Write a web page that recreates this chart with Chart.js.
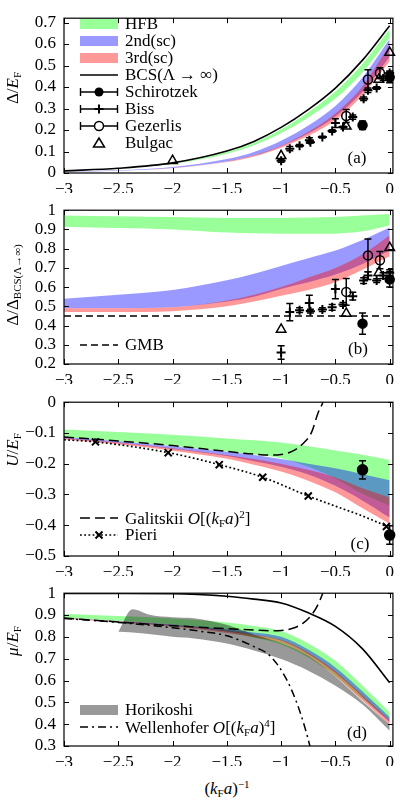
<!DOCTYPE html>
<html>
<head>
<meta charset="utf-8">
<script src="https://cdn.jsdelivr.net/npm/chart.js@4.4.1/dist/chart.umd.min.js"></script>
<style>
  body { margin: 0; background: #fff; overflow: hidden; }
  #page { position: relative; width: 400px; height: 802px; font-family: "Liberation Serif", serif; color: #000; }
  .panel { position: absolute; left: 0; width: 400px; }
  .ytitle { position: absolute; left: 13px; transform: translate(-50%, -50%) rotate(-90deg); white-space: nowrap; font-size: 17px; }
  .xtitle { position: absolute; transform: translate(-50%, -50%); white-space: nowrap; font-size: 17px; }
  .leg { position: absolute; left: 78px; height: 16px; display: flex; align-items: center; font-size: 17px; white-space: nowrap; }
  .leg svg { width: 42px; height: 16px; margin-right: 5px; flex: none; }
  .tag { position: absolute; font-size: 17px; transform: translate(-50%, -50%); }
  sub { font-size: 11px; vertical-align: -3px; font-style: normal; }
  sup { font-size: 11px; vertical-align: 6px; }
</style>
</head>
<body>
<div id="page">
  <div class="panel" style="top:0;height:193px"><canvas id="chartA"></canvas></div>
  <div class="panel" style="top:192px;height:192px"><canvas id="chartB"></canvas></div>
  <div class="panel" style="top:384px;height:192px"><canvas id="chartC"></canvas></div>
  <div class="panel" style="top:575px;height:191px"><canvas id="chartD"></canvas></div>

  <div class="ytitle" style="top:88px">Δ/<i>E</i><sub>F</sub></div>
  <div class="ytitle" style="top:285px">Δ/Δ<sub>BCS(Λ→∞)</sub></div>
  <div class="ytitle" style="top:450px"><i>U</i>/<i>E</i><sub>F</sub></div>
  <div class="ytitle" style="top:641px"><i>μ</i>/<i>E</i><sub>F</sub></div>
  <div class="xtitle" style="left:227px;top:788px">(<i>k</i><sub>F</sub><i>a</i>)<sup>−1</sup></div>

  <div class="tag" style="left:357px;top:158px">(a)</div>
  <div class="tag" style="left:358px;top:349px">(b)</div>
  <div class="tag" style="left:360px;top:544px">(c)</div>
  <div class="tag" style="left:357px;top:733px">(d)</div>
  <div id="legends"></div>
</div>

<script>
// ---- axes ----
const xTicks = [-3, -2.5, -2, -1.5, -1, -0.5, 0];
const yTicksA = [0, 0.1, 0.2, 0.3, 0.4, 0.5, 0.6, 0.7];
const yTicksB = [0.2, 0.3, 0.4, 0.5, 0.6, 0.7, 0.8, 0.9, 1];
const yTicksC = [-0.5, -0.4, -0.3, -0.2, -0.1, 0];
const yTicksD = [0.3, 0.4, 0.5, 0.6, 0.7, 0.8, 0.9, 1];

// shared grid of (kF a)^-1 for the theory bands
const gridX = [-3, -2.5, -2, -1.5, -1.25, -1, -0.75, -0.5, -0.25, 0];

// ---- panel (a): gap / E_F ----
const bcsA = [0.010, 0.022, 0.047, 0.102, 0.147, 0.212, 0.295, 0.395, 0.525, 0.685];
const hfbTopA = [0.0097, 0.0213, 0.0455, 0.098, 0.141, 0.203, 0.283, 0.379, 0.508, 0.670];
const hfbBotA = [0.0092, 0.0198, 0.0425, 0.090, 0.129, 0.185, 0.258, 0.346, 0.468, 0.630];
const sc2TopA = [0.0054, 0.0123, 0.0275, 0.065, 0.098, 0.150, 0.221, 0.312, 0.444, 0.623];
const sc2BotA = [0.0049, 0.0108, 0.0233, 0.0536, 0.081, 0.125, 0.184, 0.263, 0.378, 0.541];
const sc3TopA = [0.0049, 0.0108, 0.0233, 0.054, 0.082, 0.127, 0.192, 0.277, 0.404, 0.596];
const sc3BotA = [0.0047, 0.0103, 0.0223, 0.051, 0.077, 0.118, 0.173, 0.247, 0.362, 0.521];

// ---- panel (b): gap / BCS gap ----
const hfbTopB = [0.972, 0.968, 0.964, 0.960, 0.960, 0.960, 0.962, 0.965, 0.972, 0.980];
const hfbBotB = [0.914, 0.907, 0.900, 0.884, 0.880, 0.878, 0.877, 0.878, 0.890, 0.922];
const sc2TopB = [0.54, 0.56, 0.585, 0.635, 0.67, 0.71, 0.75, 0.79, 0.845, 0.91];
const sc2BotB = [0.49, 0.49, 0.495, 0.525, 0.55, 0.59, 0.625, 0.665, 0.72, 0.79];
const sc3TopB = [0.49, 0.49, 0.495, 0.53, 0.56, 0.60, 0.65, 0.70, 0.77, 0.87];
const sc3BotB = [0.47, 0.47, 0.475, 0.50, 0.525, 0.555, 0.585, 0.625, 0.69, 0.76];
const gmbX = [-3, 0.03];
const gmbB = [0.45, 0.45];

// ---- panel (c): U / E_F ----
const hfbTopC = [-0.089, -0.097, -0.106, -0.118, -0.124, -0.131, -0.143, -0.157, -0.171, -0.188];
const hfbBotC = [-0.114, -0.127, -0.142, -0.160, -0.170, -0.182, -0.210, -0.248, -0.298, -0.337];
const sc2TopC = [-0.113, -0.127, -0.143, -0.161, -0.172, -0.185, -0.200, -0.215, -0.234, -0.254];
const sc2BotC = [-0.118, -0.133, -0.152, -0.175, -0.192, -0.210, -0.235, -0.272, -0.320, -0.375];
const sc3TopC = [-0.116, -0.131, -0.150, -0.172, -0.185, -0.200, -0.220, -0.245, -0.280, -0.310];
const sc3BotC = [-0.121, -0.137, -0.158, -0.184, -0.203, -0.225, -0.255, -0.293, -0.345, -0.395];
const galXC = [-3, -2.5, -2, -1.5, -1.25, -1.1, -1.0, -0.9, -0.8, -0.72, -0.66, -0.615, -0.58];
const galC = [-0.113, -0.126, -0.141, -0.160, -0.169, -0.172, -0.170, -0.160, -0.135, -0.098, -0.035, 0.0, 0.04];
const pieriX = [-3, -2.71, -2.04, -1.57, -1.17, -0.75, -0.5, -0.25, -0.03, 0];
const pieriU = [-0.122, -0.129, -0.164, -0.203, -0.244, -0.305, -0.338, -0.370, -0.404, -0.41];
const pieriMarks = [false, true, true, true, true, true, false, false, true, false];

// ---- panel (d): mu / E_F ----
const bcsMu = [0.999, 0.999, 0.998, 0.986, 0.973, 0.955, 0.910, 0.848, 0.745, 0.590];
const hfbTopD = [0.906, 0.895, 0.884, 0.866, 0.850, 0.827, 0.770, 0.690, 0.576, 0.455];
const hfbBotD = [0.887, 0.873, 0.856, 0.823, 0.797, 0.765, 0.705, 0.620, 0.515, 0.415];
const sc2TopD = [0.888, 0.873, 0.857, 0.835, 0.820, 0.800, 0.742, 0.660, 0.550, 0.432];
const sc2BotD = [0.885, 0.869, 0.851, 0.825, 0.807, 0.783, 0.722, 0.635, 0.525, 0.410];
const sc3TopD = [0.886, 0.871, 0.853, 0.828, 0.810, 0.787, 0.728, 0.642, 0.532, 0.418];
const sc3BotD = [0.883, 0.867, 0.847, 0.818, 0.798, 0.772, 0.710, 0.620, 0.508, 0.398];
const horiX = [-2.5, -2.37, -2.2, -2.0, -1.8, -1.5, -1.25, -1, -0.75, -0.5, -0.25, 0];
const horiTop = [0.823, 0.927, 0.900, 0.890, 0.885, 0.855, 0.810, 0.772, 0.712, 0.618, 0.505, 0.398];
const horiBot = [0.823, 0.820, 0.812, 0.800, 0.793, 0.770, 0.738, 0.698, 0.645, 0.576, 0.490, 0.370];
const galXD = [-3, -2.5, -2, -1.5, -1.25, -1.1, -1.0, -0.9, -0.8, -0.72, -0.66, -0.62, -0.58];
const galD = [0.886, 0.868, 0.851, 0.838, 0.831, 0.828, 0.829, 0.838, 0.862, 0.900, 0.948, 0.995, 1.05];
const wellX = [-3, -2.5, -2, -1.75, -1.5, -1.25, -1.1, -0.95, -0.83, -0.73, -0.7];
const wellD = [0.884, 0.866, 0.842, 0.826, 0.805, 0.755, 0.712, 0.605, 0.462, 0.29, 0.22];

// ---- experiments / QMC ----
const schX = [-0.25, 0];
const schA = [0.222, 0.445];
const schErrA = [0.02, 0.025];
const schB = [0.41, 0.64];
const schErrB = [0.055, 0.04];
const schC = [-0.22, -0.432];
const schErrC = [0.03, 0.03];

const bissX = [-1.0, -0.92, -0.83, -0.74, -0.73, -0.62, -0.53, -0.5, -0.43, -0.34, -0.24, -0.2, -0.12, -0.06, 0];
const bissA = [0.057, 0.113, 0.127, 0.152, 0.143, 0.167, 0.195, 0.232, 0.214, 0.26, 0.345, 0.385, 0.395, 0.44, 0.465];
const bissErrA = [0.007, 0.01, 0.005, 0.012, 0.004, 0.004, 0.006, 0.02, 0.004, 0.01, 0.008, 0.01, 0.006, 0.01, 0.01];
const bissB = [0.26, 0.47, 0.48, 0.517, 0.475, 0.483, 0.495, 0.59, 0.51, 0.553, 0.634, 0.66, 0.634, 0.66, 0.675];
const bissErrB = [0.035, 0.045, 0.012, 0.04, 0.01, 0.01, 0.015, 0.05, 0.01, 0.02, 0.015, 0.02, 0.01, 0.015, 0.015];

const gezX = [-0.4, -0.2, -0.09];
const gezA = [0.265, 0.435, 0.465];
const gezErrA = [0.03, 0.045, 0.025];
const gezB = [0.575, 0.765, 0.74];
const gezErrB = [0.07, 0.085, 0.045];

const bulXA = [-2, -1, -0.4, -0.1, 0];
const bulA = [0.057, 0.08, 0.217, 0.435, 0.56];
const bulXB = [-1, -0.4, -0.1, 0];
const bulB = [0.38, 0.463, 0.675, 0.805];

const GREEN = "rgba(0,255,0,0.4)";
const BLUE = "rgba(0,0,255,0.4)";
const RED = "rgba(255,0,0,0.4)";
const GREY = "rgba(0,0,0,0.4)";

const tickFont = { family: "'Liberation Serif', serif", size: 17 };
const fmt = (v) => String(v).replace("-", "\u2212");

function xy(xs, ys) {
  return xs.map((x, i) => ({ x: x, y: ys[i] }));
}

function band(xs, top, bot, color, order) {
  return [
    { data: xy(xs, top), showLine: true, borderWidth: 0, borderColor: "rgba(0,0,0,0)",
      pointRadius: 0, fill: false, order: order, cubicInterpolationMode: "monotone" },
    { data: xy(xs, bot), showLine: true, borderWidth: 0, borderColor: "rgba(0,0,0,0)",
      pointRadius: 0, fill: "-1", backgroundColor: color, order: order, cubicInterpolationMode: "monotone" },
  ];
}

function curve(xs, ys, dash, width) {
  return {
    data: xy(xs, ys), showLine: true, borderColor: "#000", borderWidth: width, borderDash: dash,
    pointRadius: 0, fill: false, order: 0, cubicInterpolationMode: "monotone",
  };
}

function points(xs, ys, errs, style, radius, filled, width) {
  return {
    data: xy(xs, ys), showLine: false, pointStyle: style, pointRadius: radius,
    pointBorderColor: "#000", pointBackgroundColor: filled ? "#000" : "rgba(0,0,0,0)",
    pointBorderWidth: width || 1.5, errors: errs, clip: false, order: 0,
  };
}

// vertical error bars, drawn just before the marker dataset
const errorBarPlugin = {
  id: "errorBars",
  beforeDatasetDraw(chart, args) {
    const ds = chart.data.datasets[args.index];
    if (!ds.errors) return;
    const ctx = chart.ctx;
    const sx = chart.scales.x;
    const sy = chart.scales.y;
    ctx.save();
    ctx.strokeStyle = "#000";
    ctx.lineWidth = 1.5;
    ds.data.forEach((p, j) => {
      const px = sx.getPixelForValue(p.x);
      const y0 = sy.getPixelForValue(p.y - ds.errors[j]);
      const y1 = sy.getPixelForValue(p.y + ds.errors[j]);
      ctx.beginPath();
      ctx.moveTo(px, y0); ctx.lineTo(px, y1);
      ctx.moveTo(px - 3.5, y0); ctx.lineTo(px + 3.5, y0);
      ctx.moveTo(px - 3.5, y1); ctx.lineTo(px + 3.5, y1);
      ctx.stroke();
    });
    ctx.restore();
  },
};

// box frame with inward ticks on all four sides
const framePlugin = {
  id: "frame",
  afterDatasetsDraw(chart) {
    const { ctx, chartArea: a, scales } = chart;
    const len = 5;
    ctx.save();
    ctx.strokeStyle = "#000";
    ctx.lineWidth = 1;
    ctx.beginPath();
    scales.x.ticks.forEach((t) => {
      const p = Math.round(scales.x.getPixelForValue(t.value)) + 0.5;
      ctx.moveTo(p, a.bottom); ctx.lineTo(p, a.bottom - len);
      ctx.moveTo(p, a.top); ctx.lineTo(p, a.top + len);
    });
    scales.y.ticks.forEach((t) => {
      const p = Math.round(scales.y.getPixelForValue(t.value)) + 0.5;
      ctx.moveTo(a.left, p); ctx.lineTo(a.left + len, p);
      ctx.moveTo(a.right, p); ctx.lineTo(a.right - len, p);
    });
    ctx.stroke();
    ctx.lineWidth = 1.2;
    ctx.strokeRect(a.left, a.top, a.right - a.left, a.bottom - a.top);
    ctx.restore();
  },
};

function makeChart(canvasId, yMin, yMax, yTicks, datasets) {
  return new Chart(document.getElementById(canvasId), {
    type: "scatter",
    data: { datasets: datasets },
    options: {
      animation: false,
      responsive: true,
      maintainAspectRatio: false,
      layout: { padding: { top: 8, right: 7, left: 0, bottom: 0 } },
      plugins: { legend: { display: false }, tooltip: { enabled: false } },
      scales: {
        x: {
          type: "linear", min: -3, max: 0.03,
          afterBuildTicks: (s) => { s.ticks = xTicks.map((v) => ({ value: v })); },
          afterFit: (s) => { s.height = 20; },
          grid: { display: false, drawTicks: false },
          border: { display: false },
          ticks: { padding: 6, color: "#000", font: tickFont, callback: fmt, maxRotation: 0, autoSkip: false },
        },
        y: {
          type: "linear", min: yMin, max: yMax,
          afterBuildTicks: (s) => { s.ticks = yTicks.map((v) => ({ value: v })); },
          afterFit: (s) => { s.width = 64; },
          grid: { display: false, drawTicks: false },
          border: { display: false },
          ticks: { padding: 8, color: "#000", font: tickFont, callback: fmt, autoSkip: false },
        },
      },
    },
    plugins: [framePlugin, errorBarPlugin],
  });
}

makeChart("chartA", 0, 0.72, yTicksA, [
  points(schX, schA, schErrA, "circle", 4.5, true),
  points(bissX, bissA, bissErrA, "cross", 4.5, false, 2),
  points(gezX, gezA, gezErrA, "circle", 4.5, false),
  points(bulXA, bulA, null, "triangle", 5.5, false),
  curve(gridX, bcsA, [], 1.6),
  ...band(gridX, sc3TopA, sc3BotA, RED, 2),
  ...band(gridX, sc2TopA, sc2BotA, BLUE, 3),
  ...band(gridX, hfbTopA, hfbBotA, GREEN, 4),
]);

makeChart("chartB", 0.2, 1.0, yTicksB, [
  points(schX, schB, schErrB, "circle", 4.5, true),
  points(bissX, bissB, bissErrB, "cross", 4.5, false, 2),
  points(gezX, gezB, gezErrB, "circle", 4.5, false),
  points(bulXB, bulB, null, "triangle", 5.5, false),
  curve(gmbX, gmbB, [7, 4], 1.5),
  ...band(gridX, sc3TopB, sc3BotB, RED, 2),
  ...band(gridX, sc2TopB, sc2BotB, BLUE, 3),
  ...band(gridX, hfbTopB, hfbBotB, GREEN, 4),
]);

const pieriLine = curve(pieriX, pieriU, [1.8, 2.4], 1.7);
pieriLine.pointRadius = (c) => (pieriMarks[c.dataIndex] ? 5 : 0);
pieriLine.pointStyle = "crossRot";
pieriLine.pointBorderColor = "#000";
pieriLine.pointBorderWidth = 2;

makeChart("chartC", -0.5, 0, yTicksC, [
  points(schX, schC, schErrC, "circle", 5, true),
  pieriLine,
  curve(galXC, galC, [10, 5], 1.5),
  ...band(gridX, sc3TopC, sc3BotC, RED, 2),
  ...band(gridX, sc2TopC, sc2BotC, BLUE, 3),
  ...band(gridX, hfbTopC, hfbBotC, GREEN, 4),
]);

makeChart("chartD", 0.3, 1.0, yTicksD, [
  curve(gridX, bcsMu, [], 1.6),
  curve(galXD, galD, [10, 5], 1.5),
  curve(wellX, wellD, [8, 4, 2, 4], 1.5),
  ...band(horiX, horiTop, horiBot, GREY, 1),
  ...band(gridX, sc3TopD, sc3BotD, RED, 2),
  ...band(gridX, sc2TopD, sc2BotD, BLUE, 3),
  ...band(gridX, hfbTopD, hfbBotD, GREEN, 4),
]);

// ---- legends (html overlays) ----
function swatch(color) {
  return `<rect x="2" y="3" width="38" height="10" fill="${color}"/>`;
}
function stroke(dash) {
  return `<line x1="2" y1="8" x2="40" y2="8" stroke="#000" stroke-width="1.5" stroke-dasharray="${dash}"/>`;
}
function errLine(marker) {
  return stroke("") +
    `<line x1="2.5" y1="4" x2="2.5" y2="12" stroke="#000" stroke-width="1.4"/>` +
    `<line x1="39.5" y1="4" x2="39.5" y2="12" stroke="#000" stroke-width="1.4"/>` + marker;
}
const dot = `<circle cx="21" cy="8" r="4.5" fill="#000"/>`;
const ring = `<circle cx="21" cy="8" r="4.5" fill="#fff" stroke="#000" stroke-width="1.5"/>`;
const plus = `<path d="M16.5 8H25.5M21 3.5V12.5" stroke="#000" stroke-width="2"/>`;
const tri = `<path d="M21 3L26.5 12H15.5Z" fill="none" stroke="#000" stroke-width="1.5"/>`;
const cross = `<path d="M17.5 4.5L24.5 11.5M24.5 4.5L17.5 11.5" stroke="#000" stroke-width="2"/>`;

function createLegendRow(centerY, svgBody, labelHtml) {
  const row = document.createElement("div");
  row.classList.add("leg");
  row.style.top = (centerY - 8) + "px";
  row.innerHTML = `<svg viewBox="0 0 42 16">${svgBody}</svg><span>${labelHtml}</span>`;
  document.getElementById("legends").appendChild(row);
}

createLegendRow(24, swatch(GREEN), "HFB");
createLegendRow(41, swatch(BLUE), "2nd(sc)");
createLegendRow(58, swatch(RED), "3rd(sc)");
createLegendRow(75, stroke(""), "BCS(Λ → ∞)");
createLegendRow(92, errLine(dot), "Schirotzek");
createLegendRow(109, errLine(plus), "Biss");
createLegendRow(126, errLine(ring), "Gezerlis");
createLegendRow(143, tri, "Bulgac");

createLegendRow(345, stroke("7 4"), "GMB");

createLegendRow(518, stroke("10 5"), "Galitskii <i>O</i>[(<i>k</i><sub>F</sub><i>a</i>)<sup>2</sup>]");
createLegendRow(535, stroke("1.8 2.4") + cross, "Pieri");

createLegendRow(710, swatch(GREY), "Horikoshi");
createLegendRow(727, stroke("8 4 2 4"), "Wellenhofer <i>O</i>[(<i>k</i><sub>F</sub><i>a</i>)<sup>4</sup>]");
</script>
</body>
</html>
